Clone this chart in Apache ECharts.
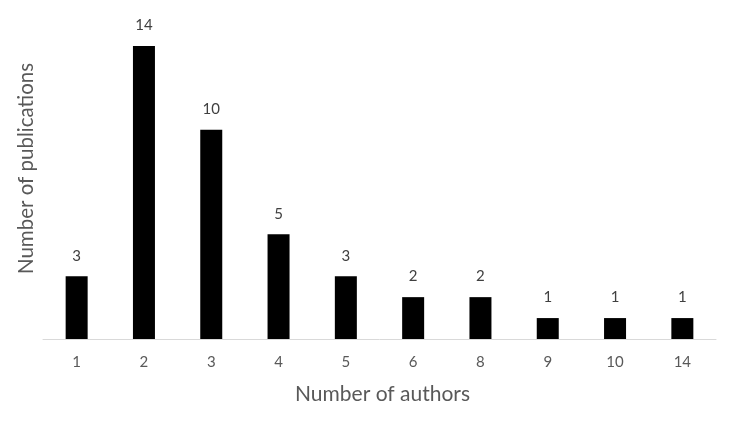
<!DOCTYPE html>
<html>
<head>
<meta charset="utf-8">
<script src="https://cdn.jsdelivr.net/npm/echarts@6/dist/echarts.min.js"></script>
<style>html,body{margin:0;padding:0;background:#fff}#c{width:737px;height:421px}</style>
</head>
<body>
<div id="c"></div>
<script>
const categories = ['1','2','3','4','5','6','8','9','10','14'];
const publications = [3,14,10,5,3,2,2,1,1,1];
const xTitle = 'Number of authors';
const yTitle = 'Number of publications';

const chart = echarts.init(document.getElementById('c'), null, {renderer:'canvas'});
const font = 'Lato';
chart.setOption({
  animation:false,
  grid:{left:43, right:21, top:46, bottom:82, containLabel:false},
  xAxis:{
    type:'category', data:categories,
    axisLine:{lineStyle:{color:'#d9d9d9', width:1}},
    axisTick:{show:false},
    axisLabel:{color:'#595959', fontSize:15, fontFamily:font, margin:16},
    name:xTitle, nameLocation:'middle', nameGap:45,
    nameTextStyle:{color:'#595959', fontSize:21, fontFamily:font, padding:[0,0,0,6]}
  },
  yAxis:{
    type:'value', min:0, max:14,
    axisLine:{show:false}, axisTick:{show:false}, axisLabel:{show:false},
    splitLine:{show:false},
    name:yTitle, nameLocation:'middle', nameGap:6, nameRotate:90,
    nameTextStyle:{color:'#595959', fontSize:20.5, fontFamily:font, padding:[0,0,0,48]}
  },
  series:[{
    type:'bar', data:publications, barWidth:22,
    itemStyle:{color:'#000'},
    label:{show:true, position:'top', distance:13, color:'#404040', fontSize:15, fontFamily:font}
  }]
});
</script>
</body>
</html>
